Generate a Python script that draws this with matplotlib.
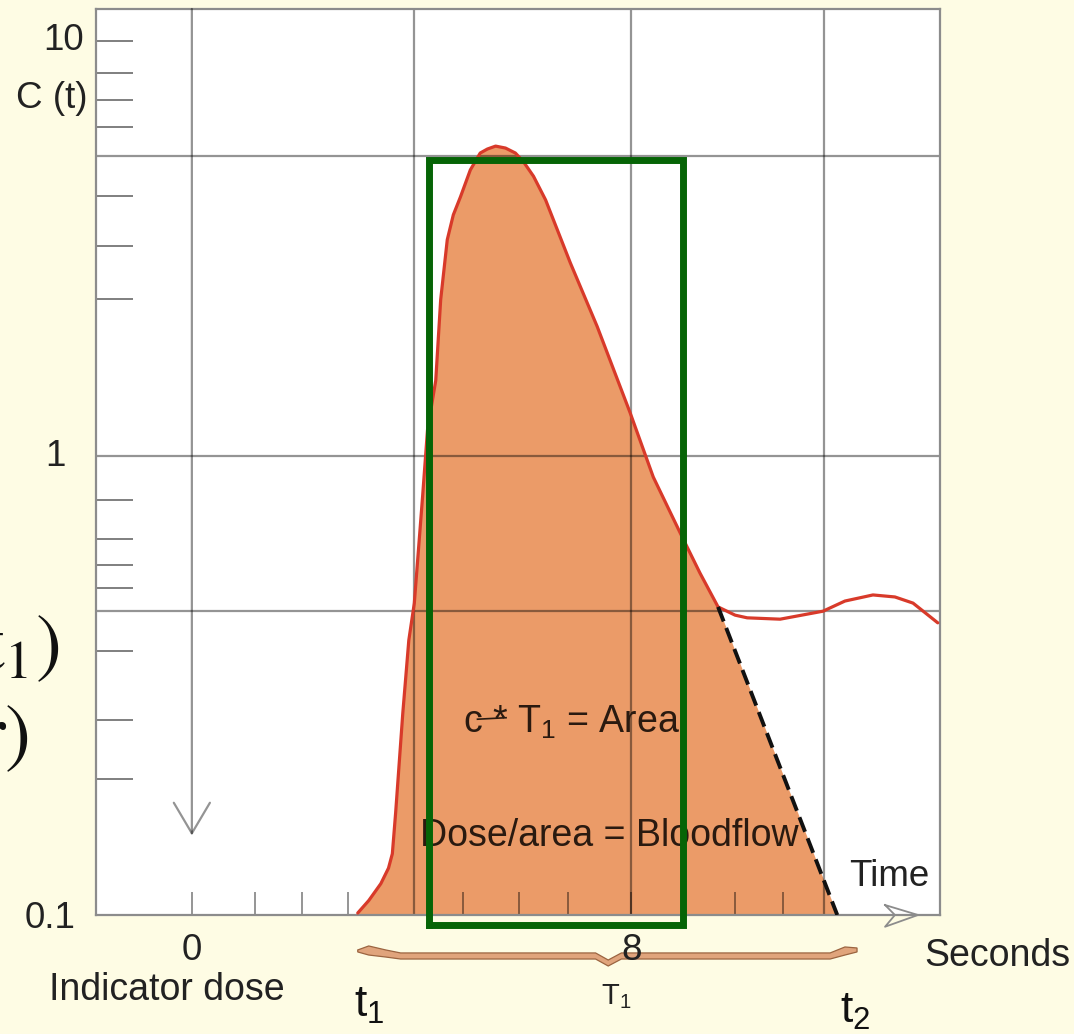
import numpy as np
import matplotlib.pyplot as plt
from matplotlib import transforms

plt.rcParams['font.family'] = ['Liberation Sans', 'DejaVu Sans']

# indicator dilution curve (time in s, concentration)
t_curve = [3.02, 3.22, 3.44, 3.58, 3.65, 3.71, 3.84, 3.95, 4.05, 4.20, 4.29, 4.44, 4.53,
           4.65, 4.76, 4.89, 5.07, 5.25, 5.38, 5.53, 5.71, 5.89, 6.04, 6.22, 6.44, 6.89,
           7.38, 7.98, 8.40, 8.89, 9.25, 9.58, 9.89, 10.11, 10.71, 11.49, 11.89, 12.40,
           12.80, 13.13, 13.58]
c_curve = [0.101, 0.1075, 0.117, 0.1265, 0.136, 0.167, 0.275, 0.397, 0.478, 0.814, 1.155, 1.52, 2.38,
           3.32, 3.81, 4.21, 4.89, 5.37, 5.49, 5.58, 5.52, 5.37, 5.11, 4.72, 4.14, 2.92,
           2.05, 1.27, 0.90, 0.68, 0.556, 0.469, 0.450, 0.444, 0.441, 0.459, 0.483, 0.498,
           0.493, 0.478, 0.433]
# extrapolated washout (dashed)
t_extrap = [9.58, 11.75]
c_extrap = [0.469, 0.1]

# green box c * T1
box_t = [4.31, 8.945]
box_c = [0.0951, 5.17]

x_ticks_major = [0, 8]
x_tick_labels = ['0', '8']
x_ticks_minor = [1.15, 2.0, 2.85, 4.93, 5.96, 6.84, 8.95, 9.89, 10.76]
x_grid = [4.05, 8, 11.5]
y_ticks = [10, 8.37, 7.21, 6.21, 4.23, 3.21, 2.39, 0.80, 0.66, 0.58, 0.516, 0.376, 0.266, 0.198]
y_grid = [5.28, 1, 0.459]

# the hand drawn log axis: decades are not all the same length
knot_log = [-2, -1, 0, 1, 2]
knot_len = [-459, 0, 459, 874, 1289]


def fwd(y):
    y = np.clip(np.asarray(y, dtype=float), 1e-6, None)
    return np.interp(np.log10(y), knot_log, knot_len)


def inv(v):
    return 10 ** np.interp(v, knot_len, knot_log)


bg = '#fefce4'
gridc = (0, 0, 0, 0.42)
txt = '#222222'
fs = 26.5

fig = plt.figure(figsize=(10.74, 10.34), dpi=100, facecolor=bg)
ax = fig.add_axes([0.0894, 0.1151, 0.7858, 0.8762])
ax.set_yscale('function', functions=(fwd, inv))
ax.set_xlim(-1.745, 13.62)
ax.set_ylim(0.1, 11.94)

for s in ax.spines.values():
    s.set_color('#8c8c8c')
    s.set_linewidth(1.6)

ax.yaxis.set_major_locator(plt.FixedLocator(y_ticks))
ax.yaxis.set_minor_locator(plt.NullLocator())
ax.yaxis.set_major_formatter(plt.NullFormatter())
ax.yaxis.set_minor_formatter(plt.NullFormatter())
ax.tick_params(axis='y', direction='in', length=26.6, width=1.4, color=(0, 0, 0, 0.5))

ax.set_xticks(x_ticks_major, x_tick_labels)
ax.set_xticks(x_ticks_minor, minor=True)
ax.tick_params(axis='x', which='both', direction='in', length=16.5, width=1.4, color=gridc)
ax.tick_params(axis='x', which='major', labelsize=fs, pad=13, labelcolor=txt)

# filled area under curve + extrapolation
n = t_curve.index(9.58) + 1
fx = t_curve[:n] + t_extrap[1:]
fy = c_curve[:n] + c_extrap[1:]
ax.fill_between(fx, fy, 0.1, color='#eb9b68', lw=0, zorder=1)

for v in y_grid:
    ax.axhline(v, color=gridc, lw=1.6, zorder=2)
for v in x_grid:
    ax.axvline(v, color=gridc, lw=1.6, zorder=2)

# indicator injection arrow at t = 0
ax.annotate('', xy=(0, 0.149), xytext=(0, 11.94),
            arrowprops=dict(arrowstyle='->,head_length=2.2,head_width=1.3',
                            color=gridc, lw=1.6, shrinkA=0, shrinkB=0, mutation_scale=10))

ax.text(7.6, 0.1486, 'Dose/area = Bloodflow', fontsize=27, color='#2a1a10',
        ha='center', va='center', zorder=3)
ax.text(6.91, 0.263, r'c * T$_{\mathregular{1}}$ = Area', fontsize=27, color='#2a1a10',
        ha='center', va='center', zorder=3)
ax.plot([5.20, 5.72], [0.267, 0.269], color='#2a1a10', lw=1.2, zorder=3)
ax.text(12.69, 0.121, 'Time', fontsize=fs, color=txt, ha='center', va='center')

ax.plot(t_curve, c_curve, color='#d83a2a', lw=2.3, zorder=4,
        solid_joinstyle='round', solid_capstyle='round')
ax.plot(t_extrap, c_extrap, color='#111111', lw=2.8, ls=(0, (4, 1.8)), zorder=4)

# green box
ax.plot([box_t[0], box_t[1], box_t[1], box_t[0], box_t[0]],
        [box_c[0], box_c[0], box_c[1], box_c[1], box_c[0]],
        color='#066406', lw=5, zorder=5, clip_on=False, solid_joinstyle='miter')

bt = transforms.blended_transform_factory(ax.transData, ax.transAxes)

# open arrow head on the time axis
ax.plot([12.62, 13.22, 12.62, 12.80, 12.62], [0.011, 0.0, -0.013, 0.0, 0.011],
        transform=bt, color='#8c8c8c', lw=1.3, clip_on=False, zorder=6)

# curly brace under the axis from t1 to t2
brace_x = [3.02, 3.22, 3.53, 3.80, 7.35, 7.58, 7.82, 11.62, 11.89, 12.11]
brace_top = [-0.0386, -0.0342, -0.0386, -0.0419, -0.0419, -0.0497, -0.0419, -0.0419, -0.0353, -0.0364]
brace_bot = [-0.0408, -0.0442, -0.0464, -0.0486, -0.0486, -0.0563, -0.0486, -0.0486, -0.0442, -0.0408]
ax.fill(brace_x + brace_x[::-1], brace_top + brace_bot[::-1], transform=bt,
        facecolor='#e0a47c', edgecolor='#9b6440', lw=0.9, clip_on=False)

# labels outside the axes
fig.text(84 / 1074, 1 - 41 / 1034, '10', fontsize=fs, ha='right', va='center', color=txt)
fig.text(88 / 1074, 1 - 99 / 1034, 'C (t)', fontsize=fs, ha='right', va='center', color=txt)
fig.text(55 / 1074, 1 - 456 / 1034, '1', fontsize=fs, ha='center', va='center', color=txt)
fig.text(76 / 1074, 1 - 919 / 1034, '0.1', fontsize=fs, ha='right', va='center', color=txt)
fig.text(167 / 1074, 1 - 990 / 1034, 'Indicator dose', fontsize=27, ha='center', va='center',
         color=txt)
fig.text(997 / 1074, 1 - 956 / 1034, 'Seconds', fontsize=27, ha='center', va='center',
         color=txt)
fig.text(616 / 1074, 1 - 997 / 1034, r'T$_{\mathregular{1}}$', fontsize=21, ha='center',
         va='center', color=txt)
fig.text(369 / 1074, 1 - 1005 / 1034, r'$\mathregular{t_1}$', fontsize=32, ha='center',
         va='center', color='#111111')
fig.text(855 / 1074, 1 - 1012 / 1034, r'$\mathregular{t_2}$', fontsize=32, ha='center',
         va='center', color='#111111')

# cut off formula from the slide on the left
fig.text(60 / 1074, 1 - 648 / 1034, r'$\mathrm{t_1)}$', fontsize=56, ha='right', va='center',
         math_fontfamily='stix', color='#111111')
fig.text(29 / 1074, 1 - 738 / 1034, r'$\mathrm{r)}$', fontsize=56, ha='right', va='center',
         math_fontfamily='stix', color='#111111')

fig.savefig('out.png', dpi=100, facecolor=bg)
